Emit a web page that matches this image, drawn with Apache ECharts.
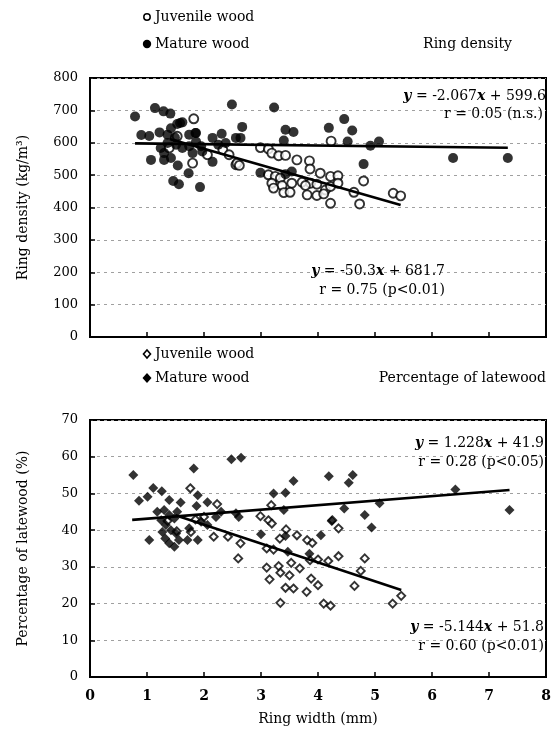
<!DOCTYPE html>
<html>
<head>
<meta charset="utf-8">
<script src="https://cdn.jsdelivr.net/npm/echarts@6/dist/echarts.min.js"></script>
<style>
  html, body { margin: 0; padding: 0; background: #fff; }
  #chart { width: 554px; height: 736px; }
</style>
</head>
<body>
<div id="chart"></div>
<script>
// Ring width (mm) vs ring density (kg/m3)
var densityMature = [
  [0.79,681],[1.14,707],[1.29,697],[1.41,690],[2.49,718],[3.23,709],[0.90,624],[1.04,621],
  [1.22,632],[1.58,661],[1.85,630],[2.31,628],[2.67,649],[2.64,615],[3.43,640],[3.57,633],
  [3.40,607],[4.19,646],[4.46,673],[4.60,638],[4.52,604],[4.92,591],[5.07,604],[4.80,534],
  [6.37,553],[7.33,553],[1.07,547],[1.54,530],[1.73,506],[2.15,541],[1.46,482],[1.56,472],
  [1.93,463],[2.99,507],[3.43,503],[3.54,511],[1.53,658],[1.62,663],[1.42,645],[1.36,625],
  [1.49,616],[1.24,584],[1.30,568],[1.42,553],[1.30,547],[1.74,625],[1.86,630],[1.86,604],
  [1.74,589],[1.95,589],[1.80,568],[1.97,573],[1.62,584],[1.51,594],[1.36,599],[2.15,615],
  [2.25,594],[2.38,599],[2.56,615]
];
var densityJuvenile = [
  [1.82,674],[1.53,620],[1.39,584],[1.80,537],[2.06,563],[2.33,578],[2.44,563],[2.56,532],
  [4.23,605],[2.58,537],[2.62,530],[2.99,585],[3.13,581],[3.19,568],[3.31,560],[3.43,561],
  [3.63,547],[3.85,544],[3.86,519],[4.04,506],[4.22,496],[4.35,498],[3.13,501],[3.25,496],
  [3.34,491],[3.19,475],[3.37,468],[3.54,475],[3.72,478],[3.87,475],[3.22,460],[3.40,446],
  [3.51,447],[3.78,468],[3.98,472],[4.13,454],[4.22,465],[3.81,439],[3.98,437],[4.10,442],
  [4.35,475],[4.80,482],[4.63,447],[4.22,413],[4.73,411],[5.32,444],[5.45,436]
];
// Ring width (mm) vs percentage of latewood (%)
var latewoodMature = [
  [2.48,59.3],[2.65,59.7],[1.82,56.8],[0.76,55.0],[1.11,51.5],[1.26,50.6],[0.86,48.0],[1.01,49.1],
  [1.39,48.2],[1.59,47.5],[1.89,49.5],[2.06,47.6],[1.87,46.6],[1.04,37.3],[1.71,37.3],[1.89,37.3],
  [1.18,45.0],[1.30,45.5],[1.39,44.1],[1.53,45.0],[1.48,43.2],[1.25,42.7],[1.33,41.4],[1.42,40.0],
  [1.27,39.5],[1.51,39.1],[1.56,37.3],[1.39,36.4],[1.48,35.5],[1.32,37.7],[1.74,40.5],[1.95,42.3],
  [2.06,41.4],[2.21,43.6],[2.30,45.0],[2.56,44.6],[3.57,53.4],[4.19,54.7],[4.54,52.9],[4.61,55.0],
  [3.22,50.0],[3.43,50.2],[2.61,43.6],[3.40,45.5],[4.46,45.9],[5.08,47.3],[4.82,44.1],[4.94,40.7],
  [4.24,42.5],[3.00,38.9],[3.43,38.4],[4.05,38.6],[3.47,34.1],[3.85,33.6],[6.41,51.1],[7.36,45.5]
];
var latewoodJuvenile = [
  [1.76,51.4],[2.23,47.1],[2.17,38.2],[2.42,38.2],[2.64,36.4],[2.99,43.8],[3.18,46.8],[3.13,42.7],
  [3.19,41.8],[3.63,38.6],[3.81,37.3],[3.90,36.5],[3.10,35.0],[3.22,34.7],[2.60,32.3],[4.25,42.7],
  [4.36,40.5],[3.44,40.2],[3.33,37.7],[3.10,29.8],[3.31,30.2],[3.53,31.1],[3.34,28.4],[3.68,29.6],
  [3.86,31.8],[4.00,32.0],[4.18,31.6],[4.36,32.9],[4.82,32.3],[4.75,28.9],[3.15,26.6],[3.50,27.7],
  [3.88,26.8],[4.00,25.0],[3.43,24.3],[3.57,24.1],[3.80,23.2],[4.64,24.8],[3.34,20.2],[4.10,20.0],
  [4.22,19.4],[5.31,20.0],[5.46,22.1],[1.36,42.5],[1.52,39.7],[1.85,42.9],[2.00,43.6],[1.77,39.5]
];

// Regression fits: [slope, intercept, xStart, xEnd]
var fitDensityMature   = [-2.067, 599.6, 0.79, 7.33];
var fitDensityJuvenile = [-50.3, 681.7, 1.40, 5.45];
var fitLatewoodMature  = [1.228, 41.9, 0.74, 7.36];
var fitLatewoodJuvenile= [-5.144, 51.8, 1.50, 5.46];

var xTicks = [0, 1, 2, 3, 4, 5, 6, 7, 8];
var densityTicks = [0, 100, 200, 300, 400, 500, 600, 700, 800];
var latewoodTicks = [0, 10, 20, 30, 40, 50, 60, 70];

function fitLine(f) {
  return [[f[2], f[0] * f[2] + f[1]], [f[3], f[0] * f[3] + f[1]]];
}

var SERIF = '"DejaVu Serif", "Liberation Serif", serif';
var gridStyle = { show: true, lineStyle: { color: '#a0a0a0', width: 1, type: [3, 4] } };
var frameLine = { show: true, lineStyle: { color: '#000', width: 2 } };
var tickIn = { show: true, inside: true, length: 5, lineStyle: { color: '#000', width: 1.5 } };

function xAxisCfg(gridIndex, showLabels) {
  return {
    type: 'value', gridIndex: gridIndex,
    min: xTicks[0], max: xTicks[xTicks.length - 1], interval: 1,
    axisLine: frameLine, axisTick: tickIn, splitLine: { show: false },
    axisLabel: { show: showLabels, color: '#000', fontFamily: SERIF, fontSize: 14, fontWeight: 'bold', margin: 12 },
    name: showLabels ? 'Ring width (mm)' : '',
    nameLocation: 'middle', nameGap: 35,
    nameTextStyle: { color: '#000', fontFamily: SERIF, fontSize: 14 }
  };
}
function yAxisCfg(gridIndex, ticks, name, gap) {
  return {
    type: 'value', gridIndex: gridIndex,
    min: ticks[0], max: ticks[ticks.length - 1], interval: ticks[1] - ticks[0],
    axisLine: frameLine, axisTick: tickIn, splitLine: gridStyle,
    axisLabel: { color: '#000', fontFamily: SERIF, fontSize: 13, margin: 12 },
    name: name, nameLocation: 'middle', nameGap: gap,
    nameTextStyle: { color: '#000', fontFamily: SERIF, fontSize: 14 }
  };
}

var filledDot = { color: '#000' };
var hollowDot = { color: '#fff', borderColor: '#000', borderWidth: 1.9 };
var fitStyle = { color: '#000', width: 2.6 };

function scatter(name, xi, data, symbol, size, style, z) {
  return { type: 'scatter', name: name, xAxisIndex: xi, yAxisIndex: xi, data: data,
           symbol: symbol, symbolSize: size, itemStyle: style, z: z, silent: true };
}
function fit(name, xi, f) {
  return { type: 'line', name: name, xAxisIndex: xi, yAxisIndex: xi, data: fitLine(f),
           showSymbol: false, symbol: 'none', lineStyle: fitStyle, z: 5, silent: true };
}

function txt(x, y, text, align, extra) {
  return {
    type: 'text', x: x, y: y, z: 20,
    style: Object.assign({
      text: text, fill: '#000', font: '14px ' + SERIF,
      align: align || 'left', verticalAlign: 'middle',
      rich: { i: { fontStyle: 'italic', fontWeight: 'bold', fontFamily: SERIF, fontSize: 14 } }
    }, extra || {})
  };
}

var graphics = [
  // legend, ring density panel
  { type: 'circle', shape: { cx: 147, cy: 17, r: 3.2 }, style: { fill: '#fff', stroke: '#000', lineWidth: 1.5 } },
  txt(155, 17, 'Juvenile wood'),
  { type: 'circle', shape: { cx: 147, cy: 44, r: 4.2 }, style: { fill: '#000' } },
  txt(155, 44, 'Mature wood'),
  txt(512, 44, 'Ring density', 'right'),
  txt(546, 96, '{i|y} = -2.067{i|x} + 599.6', 'right'),
  txt(543, 114, 'r = 0.05 (n.s.)', 'right'),
  txt(445, 271, '{i|y} = -50.3{i|x} + 681.7', 'right'),
  txt(445, 290, 'r = 0.75 (p<0.01)', 'right'),
  // legend, latewood panel
  { type: 'polygon', shape: { points: [[147, 350], [150.5, 354], [147, 358], [143.5, 354]] },
    style: { fill: '#fff', stroke: '#000', lineWidth: 1.6 } },
  txt(155, 354, 'Juvenile wood'),
  { type: 'polygon', shape: { points: [[147, 373], [151.5, 378], [147, 383], [142.5, 378]] },
    style: { fill: '#000' } },
  txt(155, 378, 'Mature wood'),
  txt(546, 378, 'Percentage of latewood', 'right'),
  txt(544, 443, '{i|y} = 1.228{i|x} + 41.9', 'right'),
  txt(544, 462, 'r = 0.28 (p<0.05)', 'right'),
  txt(544, 627, '{i|y} = -5.144{i|x} + 51.8', 'right'),
  txt(544, 646, 'r = 0.60 (p<0.01)', 'right')
];

var chart = echarts.init(document.getElementById('chart'), null, { renderer: 'canvas' });
chart.setOption({
  backgroundColor: '#fff',
  animation: false,
  textStyle: { fontFamily: SERIF },
  grid: [
    { left: 90, top: 78, width: 456, height: 259, show: true, borderColor: '#000', borderWidth: 2 },
    { left: 90, top: 420, width: 456, height: 257, show: true, borderColor: '#000', borderWidth: 2 }
  ],
  xAxis: [xAxisCfg(0, false), xAxisCfg(1, true)],
  yAxis: [
    yAxisCfg(0, densityTicks, 'Ring density (kg/m\u00b3)', 60),
    yAxisCfg(1, latewoodTicks, 'Percentage of latewood (%)', 60)
  ],
  series: [
    scatter('Juvenile wood', 0, densityJuvenile, 'circle', 9, hollowDot, 2),
    scatter('Mature wood', 0, densityMature, 'circle', 10, filledDot, 3),
    fit('Mature fit', 0, fitDensityMature),
    fit('Juvenile fit', 0, fitDensityJuvenile),
    scatter('Juvenile wood', 1, latewoodJuvenile, 'diamond', 8, hollowDot, 2),
    scatter('Mature wood', 1, latewoodMature, 'diamond', 10, filledDot, 3),
    fit('Mature fit', 1, fitLatewoodMature),
    fit('Juvenile fit', 1, fitLatewoodJuvenile)
  ],
  graphic: graphics
});
</script>
</body>
</html>
